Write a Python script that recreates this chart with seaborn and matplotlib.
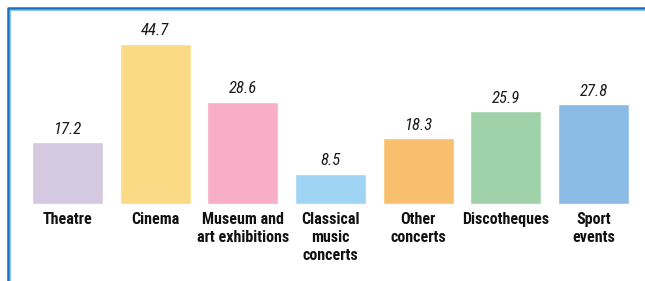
import numpy as np
import pandas as pd
import seaborn as sns
import matplotlib.pyplot as plt
from matplotlib.lines import Line2D

categories = ['Theatre', 'Cinema', 'Museum and\nart exhibitions', 'Classical\nmusic\nconcerts',
              'Other\nconcerts', 'Discotheques', 'Sport\nevents']
values = [17.2, 44.7, 28.6, 8.5, 18.3, 25.9, 27.8]
colors = ['#d5c8e1', '#fada84', '#f7aec6', '#9fd4f4', '#f8c06e', '#a0d2aa', '#8bbbe4']

df = pd.DataFrame({'cat': categories, 'val': values})

sns.set_style('white')
plt.rcParams['font.family'] = ['Roboto Condensed', 'DejaVu Sans']

fig = plt.figure(figsize=(6.45, 2.81), dpi=100)
ax = fig.add_axes([0, 77 / 281, 1, 204 / 281])

sns.barplot(data=df, x='cat', y='val', hue='cat', palette=colors, legend=False,
            width=0.81, saturation=1, ax=ax)

# value labels
for cont in ax.containers:
    ax.bar_label(cont, fmt='%.1f', padding=4, fontsize=12, style='italic',
                 fontweight='normal', color='#1a1a1a')

ax.set_xlim(-67.5 / 87.67, (645 - 67.5) / 87.67)
ax.set_ylim(0, 204 / 3.58)
ax.set_xlabel('')
ax.set_ylabel('')
ax.set_yticks([])
ax.tick_params(axis='x', length=0, pad=6)
ax.set_xticks(range(len(categories)))
ax.set_xticklabels(categories, fontsize=11.5, fontweight='bold', va='top', linespacing=1.22,
                   color='#111111')
for lbl in ax.get_xticklabels():
    lbl.set_multialignment('center')
sns.despine(ax=ax, left=True, bottom=True, top=True, right=True)

# blue frame top and left
fig.add_artist(Line2D([8.5 / 645, 1], [1 - 8 / 281, 1 - 8 / 281], color='#1a6fb5', lw=1.8,
                      transform=fig.transFigure))
fig.add_artist(Line2D([8 / 645, 8 / 645], [0, 1 - 8 / 281], color='#1a6fb5', lw=1.8,
                      transform=fig.transFigure))
fig.add_artist(Line2D([10 / 645, 1], [1 - 10 / 281, 1 - 10 / 281], color='#8cc4ea', lw=0.8,
                      transform=fig.transFigure))
fig.add_artist(Line2D([10 / 645, 10 / 645], [0, 1 - 10 / 281], color='#8cc4ea', lw=0.8,
                      transform=fig.transFigure))

fig.savefig('out.png', dpi=100)
